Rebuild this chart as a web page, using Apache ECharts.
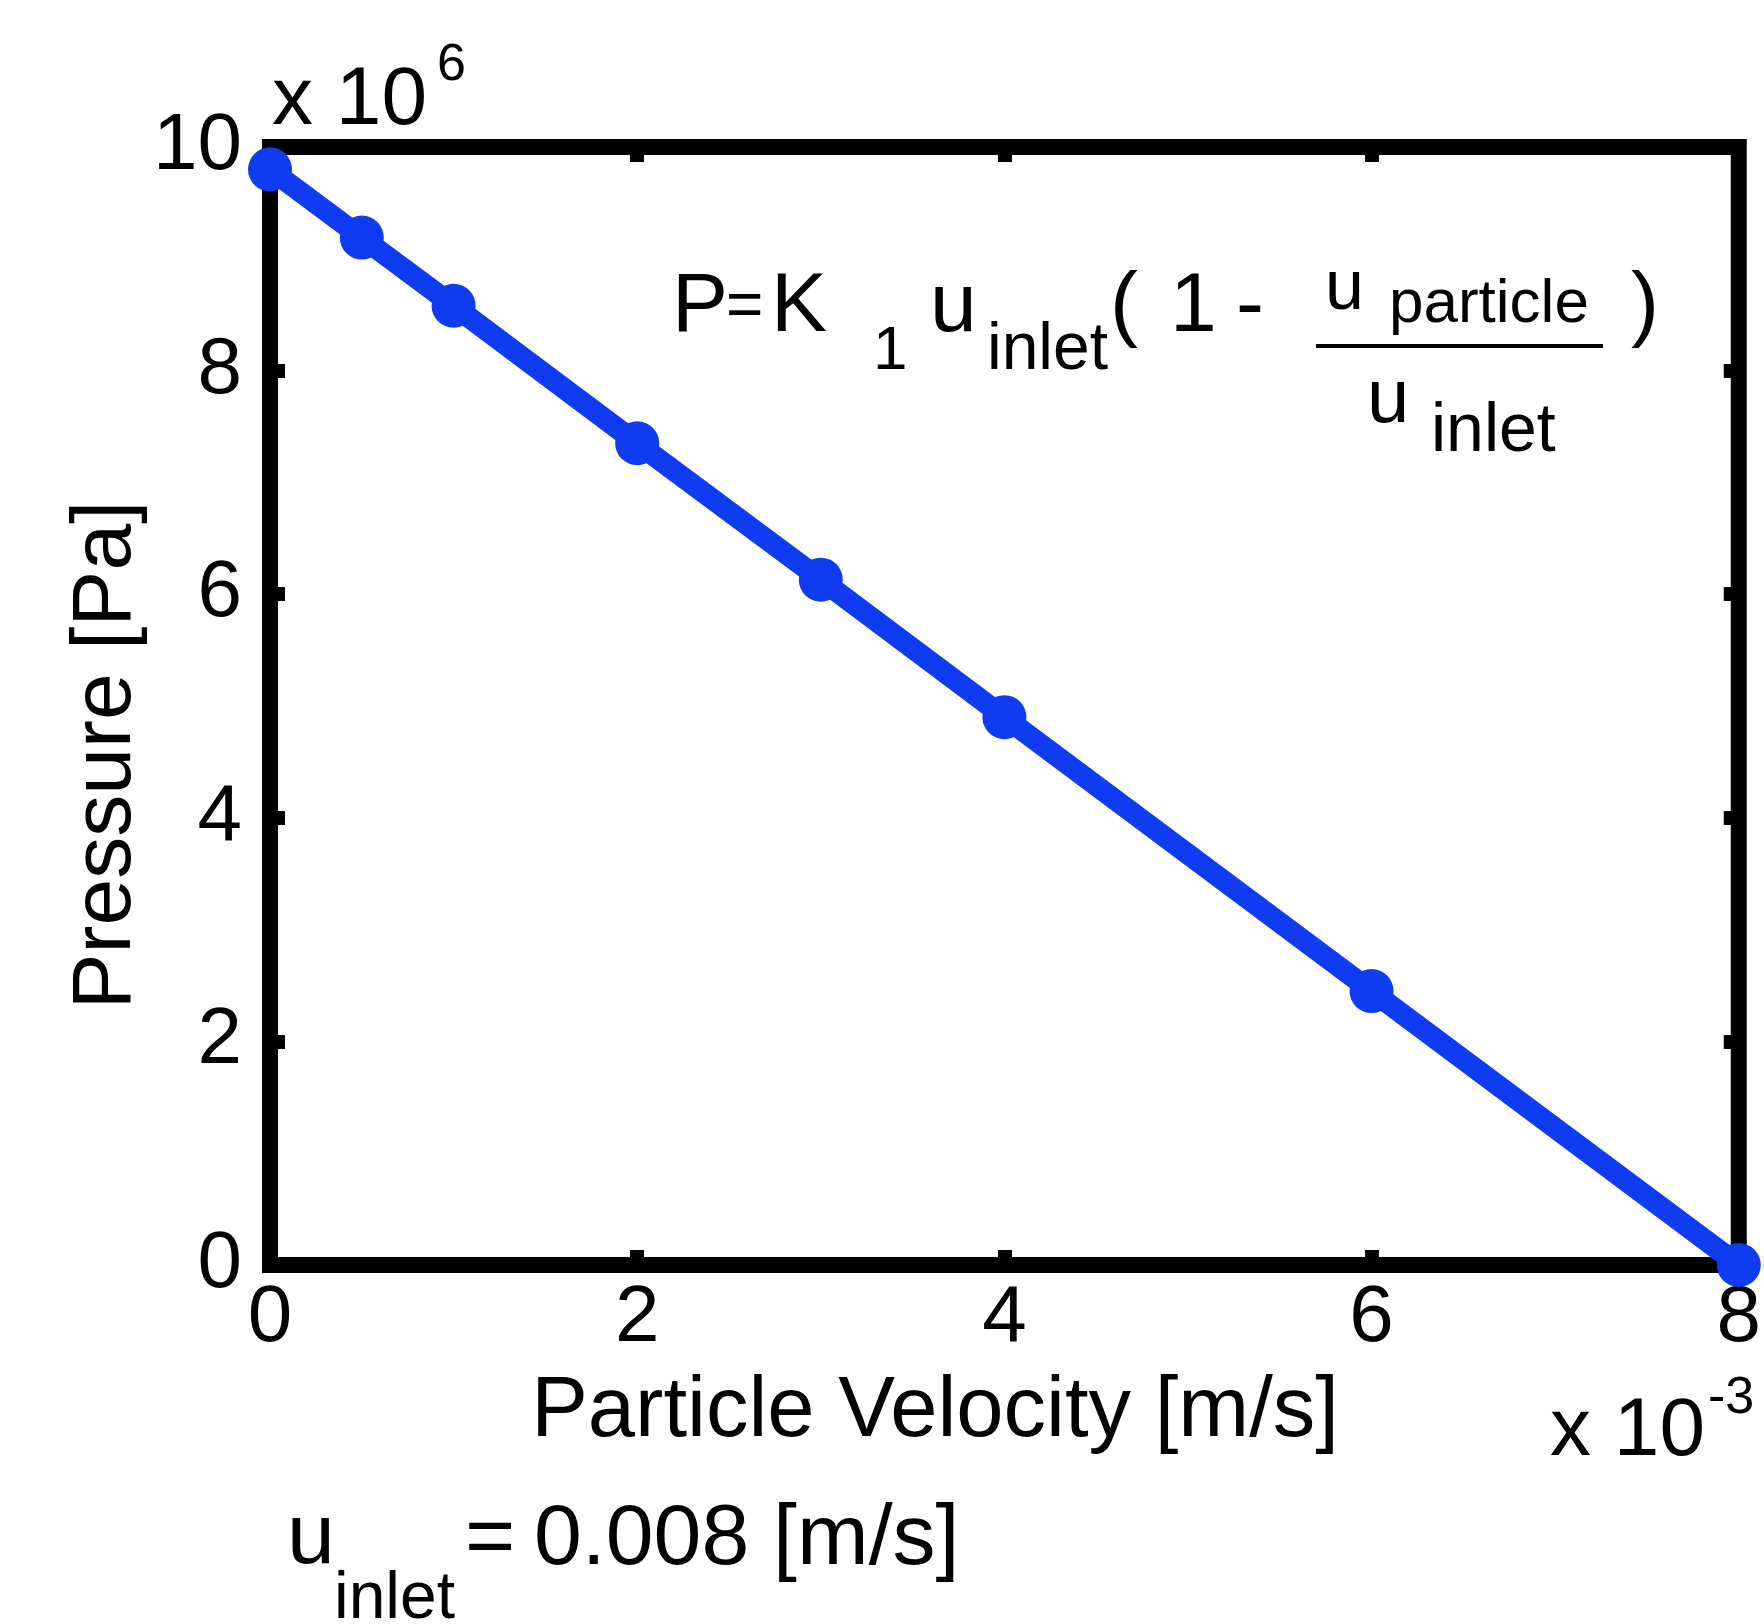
<!DOCTYPE html>
<html>
<head>
<meta charset="utf-8">
<title>Pressure vs Particle Velocity</title>
<script src="https://cdn.jsdelivr.net/npm/echarts@6/dist/echarts.min.js"></script>
<style>
  html, body { margin: 0; padding: 0; background: #fff; }
  #container { width: 1764px; height: 1624px; }
</style>
</head>
<body>
<div id="container"></div>
<script>
// particle velocity, in units of 1e-3 m/s
const velocity = [0, 0.5, 1, 2, 3, 4, 6, 8]
// pressure, in units of 1e6 Pa
const pressure = [9.8, 9.19, 8.58, 7.35, 6.13, 4.9, 2.45, 0]

const xTicks = [0, 2, 4, 6, 8]
const yTicks = [0, 2, 4, 6, 8, 10]

const FONT = "'Liberation Sans', Arial, sans-serif"
const BLUE = '#0f3cf0'

// text piece helper: x = left edge, y = middle of em box
function txt (text, x, y, size, align) {
  return {
    type: 'text',
    x: x,
    y: y,
    style: {
      text: text,
      font: size + 'px ' + FONT,
      fill: '#000',
      align: align || 'left',
      verticalAlign: 'middle'
    }
  }
}

const myChart = echarts.init(document.getElementById('container'))

// ticks point into the box on all four sides
const tickStyle = { show: true, inside: true, length: 15, lineStyle: { color: '#000', width: 14 } }
const hiddenLine = { show: false, onZero: false }

const option = {
  backgroundColor: '#fff',
  animation: false,
  grid: {
    left: 270,
    right: 14,
    top: 147,
    bottom: 359,
    show: true,
    borderColor: '#000',
    borderWidth: 16,
    backgroundColor: 'transparent'
  },
  xAxis: [
    {
      type: 'value',
      min: xTicks[0],
      max: xTicks[xTicks.length - 1],
      interval: 2,
      axisLine: hiddenLine,
      axisTick: tickStyle,
      splitLine: { show: false },
      axisLabel: { color: '#000', fontFamily: FONT, fontSize: 80, margin: 14 }
    },
    {
      type: 'value',
      position: 'top',
      min: xTicks[0],
      max: xTicks[xTicks.length - 1],
      interval: 2,
      axisLine: hiddenLine,
      axisTick: tickStyle,
      splitLine: { show: false },
      axisLabel: { show: false }
    }
  ],
  yAxis: [
    {
      type: 'value',
      min: yTicks[0],
      max: yTicks[yTicks.length - 1],
      interval: 2,
      axisLine: hiddenLine,
      axisTick: tickStyle,
      splitLine: { show: false },
      axisLabel: { color: '#000', fontFamily: FONT, fontSize: 80, margin: 28 }
    },
    {
      type: 'value',
      position: 'right',
      min: yTicks[0],
      max: yTicks[yTicks.length - 1],
      interval: 2,
      axisLine: hiddenLine,
      axisTick: tickStyle,
      splitLine: { show: false },
      axisLabel: { show: false }
    }
  ],
  series: [
    {
      type: 'line',
      data: velocity.map((v, i) => [v, pressure[i]]),
      xAxisIndex: 0,
      yAxisIndex: 0,
      clip: false,
      symbol: 'circle',
      symbolSize: 44,
      itemStyle: { color: BLUE },
      lineStyle: { color: BLUE, width: 21 },
      z: 5
    }
  ],
  graphic: [
    // axis names
    txt('Particle Velocity [m/s]', 935, 1413, 85, 'center'),
    { type: 'text', x: 107, y: 755, rotation: Math.PI / 2,
      style: { text: 'Pressure [Pa]', font: '84px ' + FONT, fill: '#000', align: 'center', verticalAlign: 'middle' } },
    // exponents
    txt('x 10', 272, 101, 82),
    txt('6', 437, 66, 52),
    txt('x 10', 1550, 1432, 82),
    txt('-3', 1708, 1399, 52),
    // formula
    txt('P', 672, 308, 84),
    txt('=', 726, 308, 64),
    txt('K', 771, 308, 84),
    txt('1', 873, 352, 62),
    txt('u', 930, 308, 84),
    txt('inlet', 987, 351, 66),
    txt('(', 1110, 308, 84),
    txt('1', 1170, 308, 84),
    txt('-', 1236, 308, 84),
    txt('u', 1325, 290, 70),
    txt('particle', 1389, 305, 62),
    { type: 'line', shape: { x1: 1316, y1: 346, x2: 1603, y2: 346 }, style: { stroke: '#000', lineWidth: 4 } },
    txt('u', 1367, 401, 76),
    txt('inlet', 1431, 432, 68),
    txt(')', 1631, 308, 84),
    // inlet velocity note
    txt('u', 287, 1539, 86),
    txt('inlet', 334, 1600, 66),
    txt('=', 465, 1540, 86),
    txt('0.008 [m/s]', 534, 1540, 86)
  ]
}

myChart.setOption(option)
window.addEventListener('resize', () => {
  myChart.resize()
})
</script>
</body>
</html>
